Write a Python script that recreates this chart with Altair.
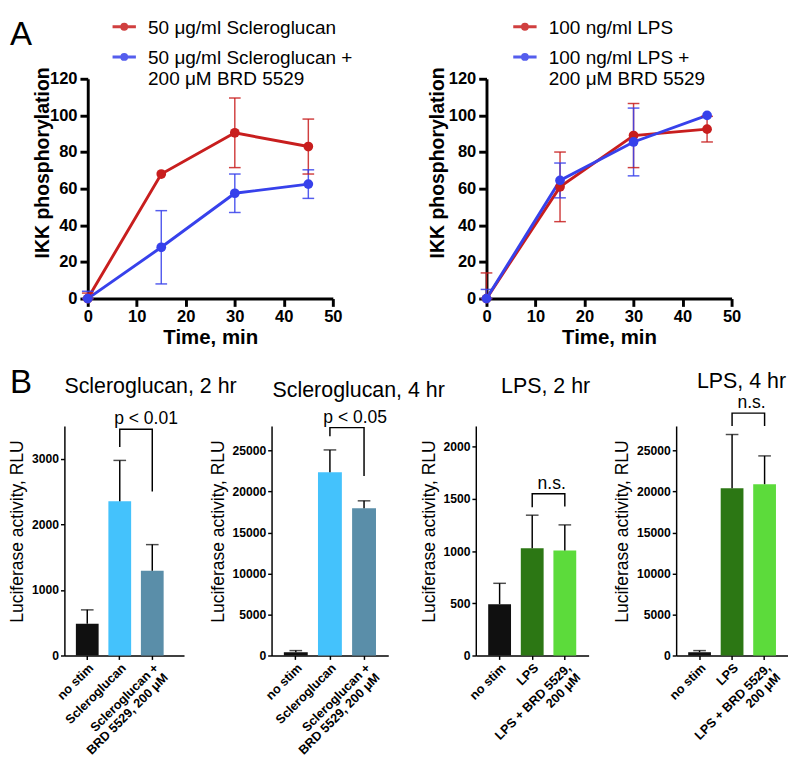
import altair as alt
import pandas as pd

FONT = "Liberation Sans"
RED = "#C81E1E"
BLUE = "#3741EB"

# ---------------- Panel A: IKK phosphorylation vs time ----------------
time_min = [0, 15, 30, 45]
a_x_ticks = [0, 10, 20, 30, 40, 50]
a_y_ticks = [0, 20, 40, 60, 80, 100, 120]

a1_series = ["50 μg/ml Scleroglucan",
             "50 μg/ml Scleroglucan +|\u00a0\u00a0\u00a0200 μM BRD 5529"]
a1_ctrl_mean = [0, 68, 90.5, 83]
a1_ctrl_sem = [3, 0, 19, 15]
a1_brd_mean = [0, 28, 57.5, 62.5]
a1_brd_sem = [4, 20, 10.5, 7.8]

a2_series = ["100 ng/ml LPS", "100 ng/ml LPS +|200 μM BRD 5529"]
a2_ctrl_mean = [0, 61, 89, 92.5]
a2_ctrl_sem = [14, 19, 17.5, 7]
a2_brd_mean = [0, 64.5, 85.5, 100]
a2_brd_sem = [5, 9.5, 18.5, 0]

# ---------------- Panel B: luciferase activity ----------------
b1_title = "Scleroglucan, 2 hr"
b1_cats = ["no stim", "Scleroglucan", "Scleroglucan +|BRD 5529, 200 μM"]
b1_mean = [485, 2353, 1294]
b1_sem = [211, 622, 397]
b1_ticks = [0, 1000, 2000, 3000]
b1_bracket = [3180, 3450, 2500]
b1_label = "p < 0.01"

b2_title = "Scleroglucan, 4 hr"
b2_cats = ["no stim", "Scleroglucan", "Scleroglucan +|BRD 5529, 200 μM"]
b2_mean = [400, 22350, 17970]
b2_sem = [200, 2730, 900]
b2_ticks = [0, 5000, 10000, 15000, 20000, 25000]
b2_bracket = [26750, 27800, 21900]
b2_label = "p < 0.05"

b3_title = "LPS, 2 hr"
b3_cats = ["no stim", "LPS", "LPS + BRD 5529,|200 μM"]
b3_mean = [492, 1028, 1006]
b3_sem = [200, 317, 246]
b3_ticks = [0, 500, 1000, 1500, 2000]
b3_bracket = [1422, 1551, 1428]
b3_label = "n.s."

b4_title = "LPS, 4 hr"
b4_cats = ["no stim", "LPS", "LPS + BRD 5529,|200 μM"]
b4_mean = [400, 20400, 20900]
b4_sem = [200, 6560, 3450]
b4_ticks = [0, 5000, 10000, 15000, 20000, 25000]
b4_bracket = [28000, 29570, 28000]
b4_label = "n.s."

SCL_COLORS = ["#101010", "#44C2FC", "#5A8EA9"]
LPS_COLORS = ["#101010", "#2C7714", "#5CDB3B"]

A_AXIS = dict(domainColor="black", domainWidth=3, tickColor="black", tickWidth=3,
              tickSize=8, labelFont=FONT, labelFontSize=17, labelFontWeight="bold",
              labelColor="black", labelPadding=3, labelFlush=False, titleFont=FONT,
              titleFontWeight="bold", titleColor="black", grid=False)
B_AXIS = dict(domainColor="black", domainWidth=1.5, tickColor="black", tickWidth=1.5,
              tickSize=4, labelFont=FONT, labelFontWeight="bold",
              labelColor="black", labelPadding=2, titleFont=FONT, titleFontSize=18,
              titleFontWeight="normal", titleColor="black", grid=False)

# legend glyph: short line with a dot, drawn slightly above the label baseline
SYMBOL = ("M-1,-0.58L1,-0.58M-0.21,-0.58A0.21,0.21,0,1,0,0.21,-0.58"
          "A0.21,0.21,0,1,0,-0.21,-0.58Z")


def ikk_panel(series, means, sems, title_x, legend_x, legend_y):
    rows = []
    for s, m_list, e_list in zip(series, means, sems):
        for t, m, e in zip(time_min, m_list, e_list):
            rows.append({"time": t, "value": m, "sem": e, "series": s,
                         "lo": max(0, m - e), "hi": m + e})
    df = pd.DataFrame(rows)
    cscale = alt.Scale(domain=series, range=[RED, BLUE])
    x_axis = alt.Axis(values=a_x_ticks, title="Time, min", titleFontSize=21,
                      titlePadding=2, **A_AXIS)
    y_axis = alt.Axis(values=a_y_ticks, title="IKK phosphorylation", titleFontSize=20,
                      titleX=title_x, titleY=86, **A_AXIS)
    xs = alt.Scale(domain=[0, 50], nice=False)
    ys = alt.Scale(domain=[0, 120], nice=False)
    X = alt.X("time:Q", scale=xs, axis=x_axis)

    def Y(f):
        return alt.Y(f, type="quantitative", scale=ys, axis=y_axis)

    legend = alt.Legend(title=None, orient="none", legendX=legend_x, legendY=legend_y,
                        direction="vertical", symbolType=SYMBOL, symbolSize=576,
                        symbolStrokeWidth=3, labelFont=FONT, labelFontSize=19.5,
                        labelColor="black", labelLimit=0,
                        labelExpr="split(datum.label, '|')",
                        labelBaseline="alphabetic", labelOffset=11, rowPadding=11)
    col = alt.Color("series:N", scale=cscale, legend=legend)

    base = alt.Chart(df)
    err = base.transform_filter("datum.sem > 0")
    line = base.mark_line(strokeWidth=3).encode(x=X, y=Y("value"), color=col,
                                                detail="series:N")
    rules = err.mark_rule(strokeWidth=1.5, opacity=0.85).encode(
        x=X, y=Y("lo"), y2="hi", color=col)
    cap_lo = err.mark_tick(orient="horizontal", size=12, thickness=1.5, opacity=0.85).encode(
        x=X, y=Y("lo"), color=col)
    cap_hi = err.mark_tick(orient="horizontal", size=12, thickness=1.5, opacity=0.85).encode(
        x=X, y=Y("hi"), color=col)
    pts = base.mark_circle(size=100, opacity=1).encode(x=X, y=Y("value"), color=col)
    return alt.layer(line, rules, cap_lo, cap_hi, pts).properties(width=252, height=226)


def bar_panel(title, cats, means, sems, colors, ymax, yticks, bracket, label,
              label_dx, width, pad_outer, align, anchor, title_dx, title_dy):
    df = pd.DataFrame({"cat": cats, "mean": means, "sem": sems})
    df["top"] = df["mean"] + df["sem"]
    xs = alt.Scale(domain=cats, paddingInner=0.3, paddingOuter=pad_outer, align=align)
    x_axis = alt.Axis(title=None, labelAngle=-45, labelExpr="split(datum.label, '|')",
                      labelLineHeight=14, labelFontSize=13, **B_AXIS)
    X = alt.X("cat:N", scale=xs, axis=x_axis, sort=cats)
    ys = alt.Scale(domain=[0, ymax], nice=False)
    y_axis = alt.Axis(values=yticks, format="d", title="Luciferase activity, RLU",
                      titlePadding=5, titleY=108, labelFontSize=12.5, **B_AXIS)

    def Y(f):
        return alt.Y(f, type="quantitative", scale=ys, axis=y_axis)

    base = alt.Chart(df)
    bars = base.mark_bar().encode(
        x=X, y=Y("mean"),
        color=alt.Color("cat:N", scale=alt.Scale(domain=cats, range=colors), legend=None))
    err = base.mark_rule(color="black", strokeWidth=1.5).encode(x=X, y=Y("mean"), y2="top")
    cap = base.mark_tick(color="black", thickness=1.5, size=13, orient="horizontal").encode(
        x=X, y=Y("top"))
    bdf = pd.DataFrame({"cat": [cats[1], cats[1], cats[2], cats[2]],
                        "yv": [bracket[0], bracket[1], bracket[1], bracket[2]],
                        "i": [0, 1, 2, 3]})
    br = alt.Chart(bdf).mark_line(color="black", strokeWidth=1.5).encode(
        x=X, y=Y("yv"), order="i:Q")
    tdf = pd.DataFrame({"cat": [cats[1]], "yv": [bracket[1]], "txt": [label]})
    txt = alt.Chart(tdf).mark_text(font=FONT, fontSize=18, color="black", baseline="bottom",
                                   dx=label_dx, dy=-1).encode(x=X, y=Y("yv"), text="txt:N")
    t = alt.TitleParams(title, anchor=anchor, dx=title_dx, dy=title_dy, fontSize=22,
                        font=FONT, fontWeight="normal", baseline="bottom", offset=27,
                        frame="group", color="black")
    return alt.layer(bars, err, cap, br, txt).properties(width=width, height=236, title=t)


a1 = ikk_panel(a1_series, [a1_ctrl_mean, a1_brd_mean], [a1_ctrl_sem, a1_brd_sem], -36,
               24, -60)
a2 = ikk_panel(a2_series, [a2_ctrl_mean, a2_brd_mean], [a2_ctrl_sem, a2_brd_sem], -40,
               26, -60)

spacer = alt.Chart(pd.DataFrame({"v": [0]})).mark_point(opacity=0).encode(
    x=alt.X("v:Q", axis=None), y=alt.Y("v:Q", axis=None)
).properties(width=24, height=226,
             title=alt.TitleParams("A", anchor="start", dx=-56, dy=6, fontSize=34,
                                   font=FONT, fontWeight="normal", baseline="bottom",
                                   offset=0, frame="group", color="black"))

b1 = bar_panel(b1_title, b1_cats, b1_mean, b1_sem, SCL_COLORS, 3500, b1_ticks, b1_bracket,
               b1_label, 27, 123, 0.49, 0.36, "start", 0, 36)
b2 = bar_panel(b2_title, b2_cats, b2_mean, b2_sem, SCL_COLORS, 28000, b2_ticks, b2_bracket,
               b2_label, 26, 120, 0.36, 0.5, "start", 1, 41)
b3 = bar_panel(b3_title, b3_cats, b3_mean, b3_sem, LPS_COLORS, 2200, b3_ticks, b3_bracket,
               b3_label, 20, 116, 0.38, 0.5, "start", 26, 20)
b4 = bar_panel(b4_title, b4_cats, b4_mean, b4_sem, LPS_COLORS, 28000, b4_ticks, b4_bracket,
               b4_label, 20, 115, 0.37, 0.5, "end", -2, 47)

INDEP = dict(color="independent", x="independent", y="independent")
INDEP_LEG = dict(color="independent")

inner_a = (alt.hconcat(a1, a2, spacing=158, bounds="flush")
           .resolve_scale(**INDEP).resolve_legend(**INDEP_LEG))
row_a = (alt.hconcat(spacer, inner_a, spacing=0, bounds="flush")
         .resolve_scale(**INDEP).resolve_legend(**INDEP_LEG))
row_b = (alt.hconcat(b1, b2, b3, b4, spacing=90, bounds="flush",
                     title=alt.TitleParams("B", anchor="start", dx=-56, dy=64, fontSize=34,
                                           font=FONT, fontWeight="normal", baseline="bottom",
                                           offset=0, frame="group", color="black"))
         .resolve_scale(**INDEP).resolve_legend(**INDEP_LEG))

chart = (alt.vconcat(row_a, row_b, spacing=19,
                     padding={"left": 1, "top": 0, "right": 0, "bottom": 4})
         .resolve_scale(**INDEP).resolve_legend(**INDEP_LEG)
         .configure_view(stroke=None))

chart.save("out.html", embed_options={"renderer": "svg", "actions": False})
